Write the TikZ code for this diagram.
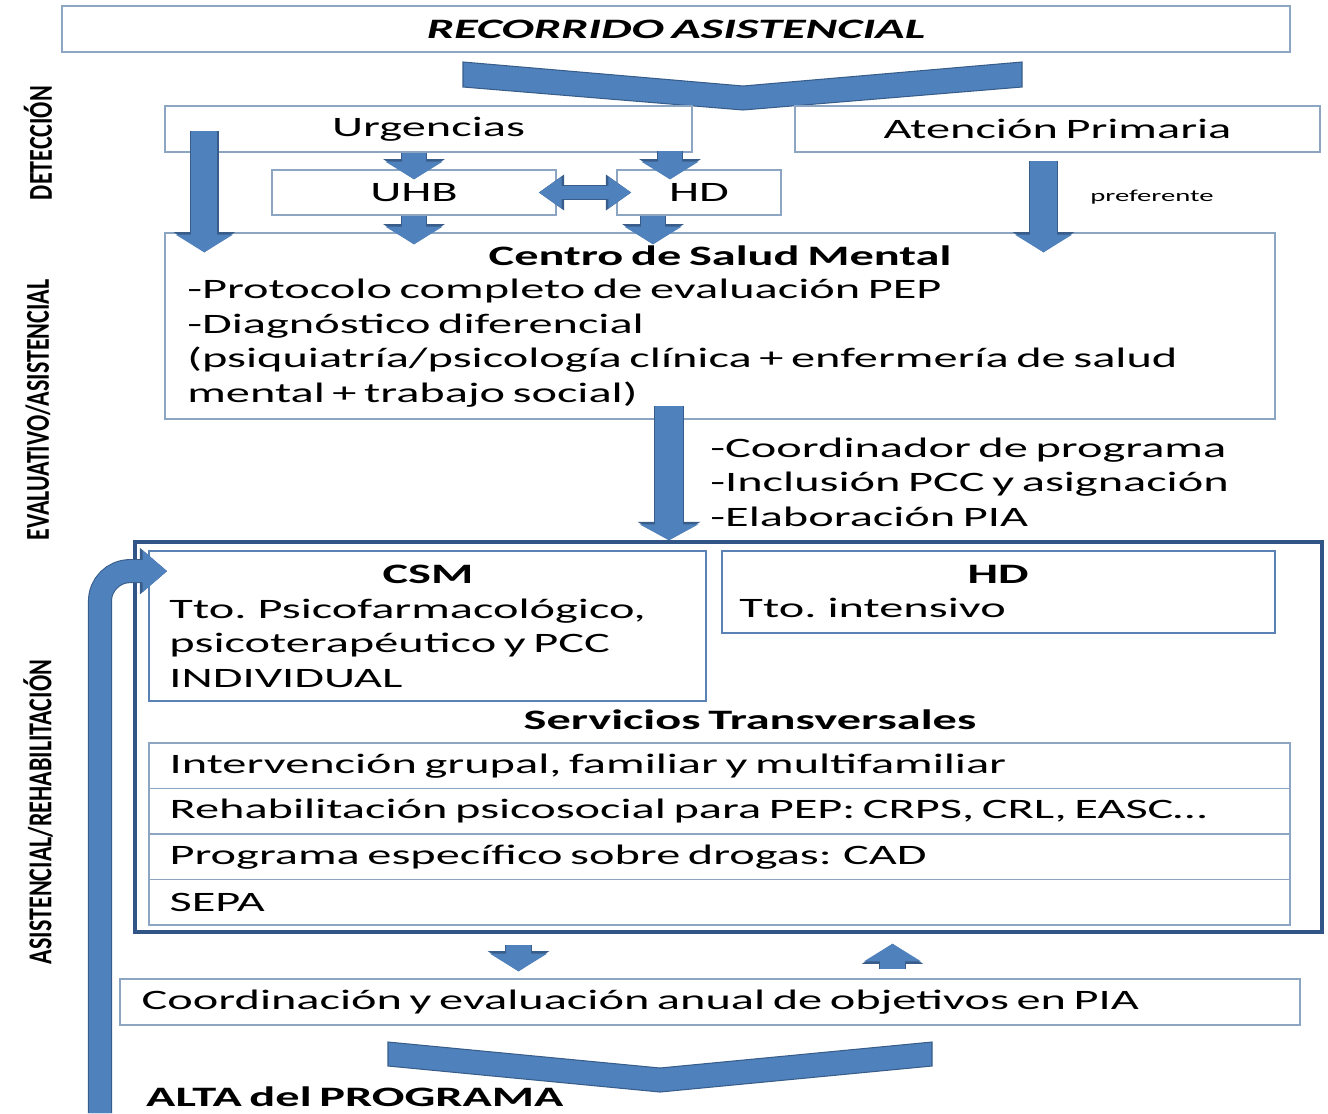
\documentclass[tikz,border=0pt]{standalone}
\usepackage{fontspec}
\setmainfont{Carlito}[FakeStretch=1.72,WordSpace=0.7]
\newfontfamily\sidefont{Carlito}[FakeStretch=0.72]
\usetikzlibrary{arrows.meta,calc,fit,positioning}

\definecolor{arrowblue}{RGB}{79,129,189}
\definecolor{arrowedge}{RGB}{56,93,138}
\definecolor{boxline}{RGB}{140,165,195}
\definecolor{innerline}{RGB}{90,130,180}
\definecolor{outerline}{RGB}{50,85,135}

\newcommand{\mainsz}{\fontsize{16}{19.7}\selectfont}

\tikzset{
  box/.style={draw=boxline, line width=0.8pt, inner sep=0pt, fill=white},
  innerbox/.style={draw=innerline, line width=1pt, inner sep=0pt, fill=white},
  outerbox/.style={draw=outerline, line width=2pt, inner sep=0pt},
  side/.style={font=\sidefont\bfseries\fontsize{19}{22}\selectfont, rotate=90},
  txt/.style={anchor=west, inner sep=0pt, align=left},
  sarrow/.style={arrowblue, line width=14pt, -{Triangle[width=32pt,length=10pt]},
    preaction={draw=arrowedge, line width=15.2pt, -{Triangle[width=34.5pt,length=11.5pt]}}},
  larrow/.style={arrowblue, line width=15pt, -{Triangle[width=32pt,length=10pt]},
    preaction={draw=arrowedge, line width=16.2pt, -{Triangle[width=34.5pt,length=11.5pt]}}},
  barrow/.style={arrowblue, line width=16pt, -{Triangle[width=33pt,length=9pt]},
    preaction={draw=arrowedge, line width=17.2pt, -{Triangle[width=35.5pt,length=10.5pt]}}},
  darrow/.style={arrowblue, line width=7.5pt, {Triangle[width=17pt,length=13pt]}-{Triangle[width=17pt,length=13pt]},
    preaction={draw=arrowedge, line width=8.7pt, {Triangle[width=19.5pt,length=14.5pt]}-{Triangle[width=19.5pt,length=14.5pt]}}},
  looparrow/.style={arrowblue, line width=12.5pt, rounded corners=0.6cm, -{Triangle[width=23pt,length=14pt]},
    preaction={draw=arrowedge, line width=13.7pt, -{Triangle[width=25.5pt,length=15.5pt]}}},
  chevron/.style={fill=arrowblue, draw=arrowedge, line width=0.6pt}
}

\begin{document}
\begin{tikzpicture}[x=0.02cm, y=-0.02cm, font=\mainsz]
\useasboundingbox (0,0) rectangle (1328,1113);

% cabecera
\node[box, fit={(62,6)(1290,52)}] (titulo) {};
\node[font=\mainsz\bfseries\itshape] (titulotxt) at (titulo.center) {RECORRIDO ASISTENCIAL};
\filldraw[chevron] (463,62) -- (743,86) -- (1022,62) -- (1022,87) -- (743,110) -- (463,87) -- cycle;

% fases
\node[side] (det) at (38,143) {DETECCIÓN};
\node[side] (eva) at (38,410) {EVALUATIVO/ASISTENCIAL};
\node[side] (asi) at (38,812) {ASISTENCIAL/REHABILITACIÓN};

% deteccion
\node[box, fit={(165,106)(692,152)}] (urg) {};
\node (urgtxt) at (urg.center) {Urgencias};
\node[box, fit={(795,106)(1320,152)}] (ap) {};
\node (aptxt) at (ap.center) {Atención Primaria};
\node[box, fit={(272,170)(556,215)}] (uhb) {};
\node (uhbtxt) at (uhb.center) {UHB};
\node[box, fit={(617,170)(781,215)}] (hd) {};
\node (hdtxt) at (hd.center) {HD};
\node[font=\fontsize{9.5}{12}\selectfont] (pref) at (1152,197) {preferente};

% centro de salud mental
\node[box, fit={(165,233)(1275,419)}] (csm) {};
\node[font=\mainsz\bfseries] (csmtit) at (720,256) {Centro de Salud Mental};
\node[txt] (csmtxt) at (187,343) {-Protocolo completo de evaluación PEP\\
  -Diagnóstico diferencial\\
  (psiquiatría/psicología clínica + enfermería de salud\\
  mental + trabajo social)};
\node[txt] (coordtxt) at (710,482) {-Coordinador de programa\\
  -Inclusión PCC y asignación\\
  -Elaboración PIA};

% asistencial / rehabilitacion
\node[outerbox, fit={(135,542)(1322,932)}] (outer) {};
\node[innerbox, fit={(149,551)(706,701)}] (csmi) {};
\node[font=\mainsz\bfseries] (csmitit) at (428,574) {CSM};
\node[txt] (csmitxt) at ($(csmi.north west)+(21,93)$) {Tto. Psicofarmacológico,\\
  psicoterapéutico y PCC\\
  INDIVIDUAL};
\node[innerbox, fit={(722,551)(1275,633)}] (hdi) {};
\node[font=\mainsz\bfseries] (hditit) at (998,574) {HD};
\node[txt] (hditxt) at ($(hdi.north west)+(18,58)$) {Tto. intensivo};
\node[font=\mainsz\bfseries] (serv) at (750,720) {Servicios Transversales};

\foreach \t [count=\i] in {{Intervención grupal, familiar y multifamiliar},
    {Rehabilitación psicosocial para PEP: CRPS, CRL, EASC\ldots},
    {Programa específico sobre drogas: CAD},
    {SEPA}} {
  \node[box, fit={(149,{743+45.5*(\i-1)}) (1290,{743+45.5*\i})}] (row\i) {};
  \node[txt] (rowtxt\i) at ($(row\i.west)+(21,0)$) {\t};
}

% coordinacion y alta
\node[box, fit={(120,979)(1300,1025)}] (coord) {};
\node[txt] (coordpia) at ($(coord.west)+(22,0)$) {Coordinación y evaluación anual de objetivos en PIA};
\filldraw[chevron] (388,1042) -- (660,1068) -- (932,1042) -- (932,1066) -- (660,1092) -- (388,1066) -- cycle;
\node[anchor=west, font=\mainsz\bfseries] (alta) at (140,1097) {ALTA del PROGRAMA};
\coordinate (altaend) at (100,1113);

% flechas
\draw[larrow] ($(urg.north west)+(40,26)$) -- ($(urg.north west |- csm.north)+(40,20)$);
\draw[sarrow] (uhb.center |- urg.south) -- ($(uhb.north)+(0,10)$);
\draw[sarrow] ($(hd.north)+(-29,-18)$) -- ($(hd.north)+(-29,10)$);
\draw[sarrow] (uhb.south) -- ($(uhb.south |- csm.north)+(0,12)$);
\draw[sarrow] ($(hd.south)+(-46,0)$) -- ($(hd.south |- csm.north)+(-46,12)$);
\draw[larrow] ($(ap.south)+(-14,8)$) -- ($(ap.south |- csm.north)+(-14,20)$);
\draw[darrow] ($(uhb.east)+(-18,0)$) -- ($(hd.west)+(15,0)$);
\draw[barrow] ($(csm.south)+(-51,-14)$) -- ($(csm.south |- outer.north)+(-51,0)$);
\draw[sarrow] ($(outer.south)+(-210,11)$) -- ($(outer.south |- coord.north)+(-210,-7)$);
\draw[sarrow] ($(outer.south |- coord.north)+(164,-9)$) -- ($(outer.south)+(164,10)$);
\draw[looparrow] (altaend) -- ($(altaend |- csmi.north)+(0,21)$) -- ($(csmi.north west)+(19,21)$);
\end{tikzpicture}
\end{document}
